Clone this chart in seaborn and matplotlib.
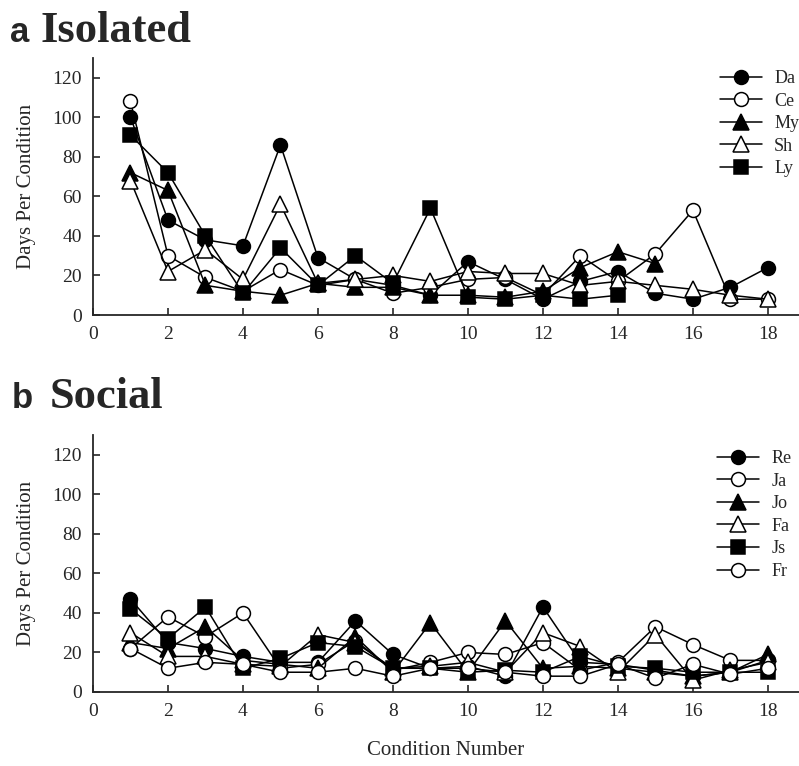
#Librerías
import numpy as np
import pandas as pd
import seaborn as sns
import matplotlib.pyplot as plt

sns.set_style("ticks")
plt.rcParams['font.family'] = ['Liberation Serif', 'DejaVu Serif']

#Número de condición
condiciones = list(range(1, 19))

#a Isolated (días por condición)
Da = [100, 48, 38, 35, 86, 29, 18, 15, 10, 27, 18, 8, 17, 22, 11, 8, 14, 24]
Ce = [108, 30, 19, 12, 23, 15, 18, 11, 14, 18, 19, 10, 30, 17, 31, 53, 8, 8]
My = [72, 63, 15, 12, 10, 16, 14, 14, 10, 10, 9, 12, 24, 32, 26]
Sh = [68, 22, 33, 18, 56, 16, 18, 20, 17, 22, 21, 21, 15, 17, 15, 13, 10, 8]
Ly = [91, 72, 40, 11, 34, 15, 30, 16, 54, 9, 8, 10, 8, 10]

#b Social
Re = [47, 25, 22, 18, 15, 15, 36, 19, 12, 13, 8, 43, 15, 14, 11, 8, 10, 16]
Ja = [22, 38, 28, 40, 12, 14, 26, 11, 15, 20, 19, 25, 11, 15, 33, 24, 16, 16]
Jo = [25, 22, 33, 16, 14, 12, 28, 10, 35, 10, 36, 12, 13, 12, 10, 8, 10, 19]
Fa = [30, 18, 18, 14, 13, 29, 25, 12, 13, 15, 10, 30, 23, 10, 29, 6, 11, 15]
Js = [42, 27, 43, 12, 17, 25, 23, 12, 12, 10, 11, 10, 18, 13, 12, 10, 10, 10]
Fr = [22, 12, 15, 14, 10, 10, 12, 8, 12, 12, 10, 8, 8, 14, 7, 14, 9, 12]

aislados = {"Da": Da, "Ce": Ce, "My": My, "Sh": Sh, "Ly": Ly}
sociales = {"Re": Re, "Ja": Ja, "Jo": Jo, "Fa": Fa, "Js": Js, "Fr": Fr}

estilos = {
    "Da": ("o", "black"), "Ce": ("o", "white"), "My": ("^", "black"),
    "Sh": ("^", "white"), "Ly": ("s", "black"),
    "Re": ("o", "black"), "Ja": ("o", "white"), "Jo": ("^", "black"),
    "Fa": ("^", "white"), "Js": ("s", "black"), "Fr": ("o", "white"),
}

fig = plt.figure(figsize=(7.99, 7.66), dpi=100)
ax1 = fig.add_axes([93/799, 1-315/766, 1-93/799, 257/766])
ax2 = fig.add_axes([93/799, 1-692/766, 1-93/799, 257/766])


def dibujar(ax, grupo, leg_x, leg_y):
    for nombre, valores in grupo.items():
        m, fc = estilos[nombre]
        sns.lineplot(x=condiciones[:len(valores)], y=valores, ax=ax,
                     color="black", linewidth=1.1, marker=m,
                     markersize=11 if m == "^" else 10,
                     markerfacecolor=fc, markeredgecolor="black",
                     markeredgewidth=1.1, label=nombre)
    ax.set_xlim(0, 18.83)
    ax.set_ylim(0, 130)
    ax.set_xticks(range(0, 19, 2))
    ax.set_yticks(range(0, 121, 20))
    ax.tick_params(direction="in", length=5, width=1.2, labelsize=14, pad=8)
    for s in ["left", "bottom"]:
        ax.spines[s].set_linewidth(1.3)
    sns.despine(ax=ax)
    ax.set_ylabel("Days Per Condition", fontsize=15, labelpad=12)
    ax.legend(loc="upper left", bbox_to_anchor=(leg_x, leg_y),
              bbox_transform=fig.transFigure, frameon=False, fontsize=13,
              handlelength=2.3, handletextpad=0.7, labelspacing=0.31,
              borderpad=0, borderaxespad=0)


dibujar(ax1, aislados, 720/799, 1-70/766)
dibujar(ax2, sociales, 717/799, 1-450/766)
ax2.set_xlabel("Condition Number", fontsize=15, labelpad=15)

#Títulos de los paneles
fig.text(10/799, 1-42/766, "a", fontsize=25, fontweight="bold", family="Liberation Sans", va="baseline")
fig.text(40/799, 1-42/766, "Isolated", fontsize=32, fontweight="bold", va="baseline")
fig.text(12/799, 1-408/766, "b", fontsize=25, fontweight="bold", family="Liberation Sans", va="baseline")
fig.text(50/799, 1-408/766, "Social", fontsize=32, fontweight="bold", va="baseline")

fig.savefig("out.png", dpi=100)
